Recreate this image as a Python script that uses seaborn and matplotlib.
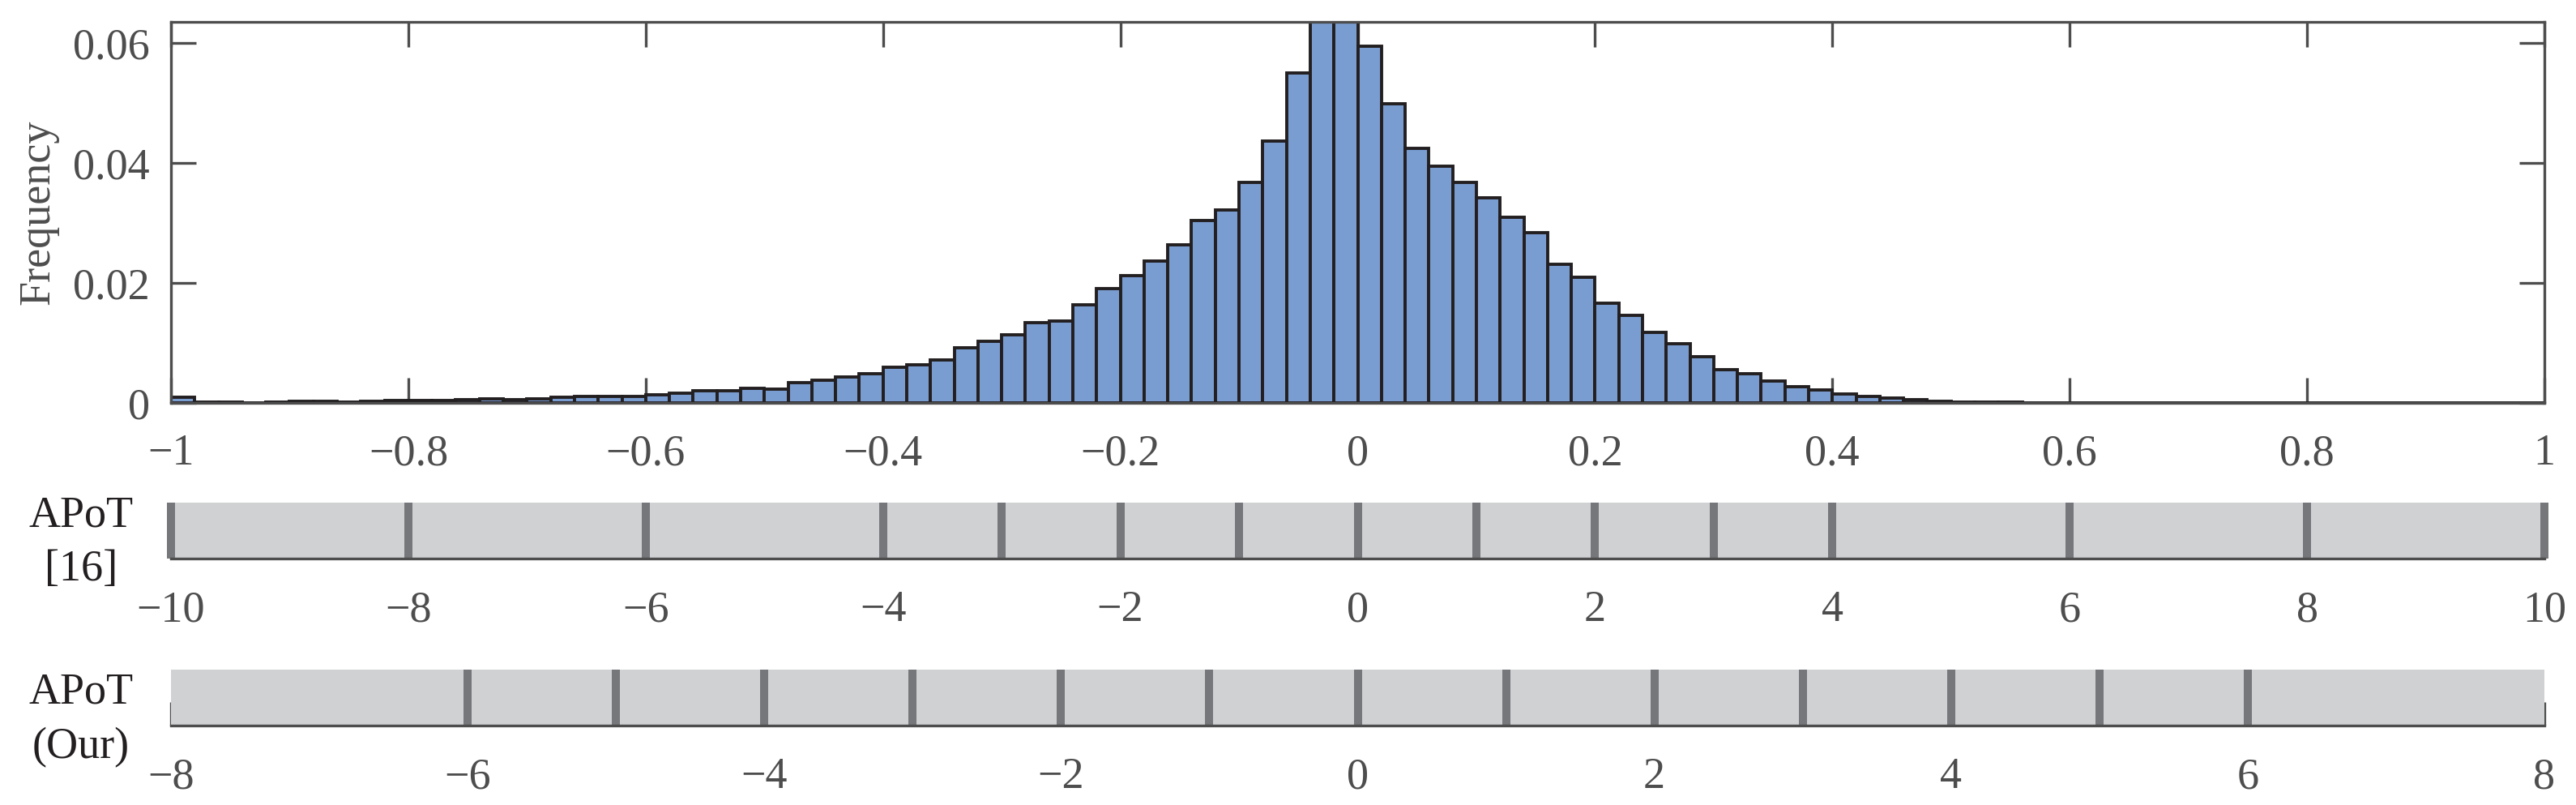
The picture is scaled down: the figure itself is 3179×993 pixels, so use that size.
import numpy as np
import pandas as pd
import seaborn as sns
import matplotlib.pyplot as plt
from matplotlib.ticker import FuncFormatter

sns.set_theme(style="ticks")
plt.rcParams["font.family"] = ["Liberation Serif", "DejaVu Serif"]
plt.rcParams["axes.unicode_minus"] = True

ink = "#4d4d4d"

# weight histogram, 100 bins of width 0.02 over [-1, 1]
bin_range = [-1.0, 1.0]
freq = [
    0.00095, 0.00014, 0.00014, 0.00002, 0.00014, 0.00027, 0.00027, 0.00014, 0.00027, 0.00040,
    0.00040, 0.00040, 0.00054, 0.00068, 0.00054, 0.00068, 0.00095, 0.00108, 0.00108, 0.00108,
    0.00130, 0.00167, 0.00200, 0.00205, 0.00240, 0.00230, 0.00340, 0.00380, 0.00430, 0.00490,
    0.00590, 0.00640, 0.00720, 0.00920, 0.01030, 0.01140, 0.01340, 0.01370, 0.01640, 0.01910,
    0.02120, 0.02370, 0.02630, 0.03040, 0.03220, 0.03670, 0.04370, 0.05500, 0.06600, 0.06800,
    0.05940, 0.04990, 0.04240, 0.03940, 0.03670, 0.03420, 0.03090, 0.02840, 0.02310, 0.02100,
    0.01660, 0.01460, 0.01170, 0.00980, 0.00770, 0.00550, 0.00480, 0.00360, 0.00270, 0.00210,
    0.00144, 0.00104, 0.00077, 0.00050, 0.00023, 0.00010, 0.00010, 0.00010, 0.00005, 0.00000,
    0.00005, 0.00005, 0.00000, 0.00000, 0.00000, 0.00000, 0.00000, 0.00000, 0.00000, 0.00000,
    0.00000, 0.00000, 0.00000, 0.00000, 0.00000, 0.00000, 0.00000, 0.00000, 0.00000, 0.00000,
]
hist_xticks = [-1, -0.8, -0.6, -0.4, -0.2, 0, 0.2, 0.4, 0.6, 0.8, 1]
hist_yticks = [0, 0.02, 0.04, 0.06]
hist_ymax = 0.0635

# quantization levels
apot16_range = [-10, 10]
apot16_levels = [-10, -8, -6, -4, -3, -2, -1, 0, 1, 2, 3, 4, 6, 8, 10]
apot16_ticks = [-10, -8, -6, -4, -2, 0, 2, 4, 6, 8, 10]
apot_our_range = [-8, 8]
apot_our_levels = [-6, -5, -4, -3, -2, -1, 0, 1, 2, 3, 4, 5, 6]
apot_our_ticks = [-8, -6, -4, -2, 0, 2, 4, 6, 8]

fmt = FuncFormatter(lambda v, p: f"{v:g}".replace("-", "\u2212"))
fs = 39

W, H = 3179, 993
fig = plt.figure(figsize=(W / 100, H / 100), dpi=100)
L, R = 211 / W, 3140 / W


def ax_at(top, bottom):
    return fig.add_axes([L, 1 - bottom / H, R - L, (bottom - top) / H])


# --- histogram
ax = ax_at(27, 497)
n_bins = len(freq)
bw = (bin_range[1] - bin_range[0]) / n_bins
centers = bin_range[0] + bw * (np.arange(n_bins) + 0.5)
hist_df = pd.DataFrame({"x": centers, "w": freq})
sns.histplot(data=hist_df, x="x", weights="w", bins=n_bins, binrange=bin_range,
             stat="count", color="#7a9dd1", alpha=1, edgecolor="#231f20",
             linewidth=2.8, ax=ax)
ax.set_xlim(*bin_range)
ax.set_ylim(0, hist_ymax)
ax.set_xticks(hist_xticks)
ax.set_yticks(hist_yticks)
ax.xaxis.set_major_formatter(fmt)
ax.yaxis.set_major_formatter(fmt)
ax.tick_params(direction="in", length=22, width=2.4, color=ink, labelcolor=ink,
               labelsize=fs, top=True, right=True)
ax.tick_params(axis="x", pad=27)
ax.tick_params(axis="y", pad=19)
for s in ax.spines.values():
    s.set_color(ink)
    s.set_linewidth(2.4)
ax.set_xlabel("")
ax.set_ylabel("Frequency", fontsize=fs, color=ink)
ax.yaxis.set_label_coords((72 - 211) / (3140 - 211), 0.5)


# --- quantization level strips
def level_strip(top, bottom, rng, levels, ticks):
    a = ax_at(top, bottom)
    a.axvspan(rng[0], rng[1], color="#d0d1d3", lw=0)
    sns.rugplot(x=levels, height=1, ax=a, color="#76777a", linewidth=7.2,
                clip_on=False, expand_margins=False)
    a.set_xlim(*rng)
    a.set_ylim(0, 1)
    a.set_xticks(ticks)
    a.set_yticks([])
    a.xaxis.set_major_formatter(fmt)
    a.tick_params(axis="x", direction="in", length=21, width=2.4, color=ink,
                  labelcolor=ink, labelsize=fs, pad=28)
    for k in ["left", "right", "top"]:
        a.spines[k].set_visible(False)
    a.spines["bottom"].set_color(ink)
    a.spines["bottom"].set_linewidth(2.4)
    a.spines["bottom"].set_zorder(3)
    return a


level_strip(620, 689, apot16_range, apot16_levels, apot16_ticks)
level_strip(826, 895, apot_our_range, apot_our_levels, apot_our_ticks)

xc = 100 / W
for txt, base in [("APoT", 650), ("[16]", 716), ("APoT", 868), ("(Our)", 935)]:
    fig.text(xc, 1 - base / H, txt, ha="center", va="baseline", fontsize=fs, color="#231f20")

fig.savefig("out.png", dpi=100, facecolor="white")
